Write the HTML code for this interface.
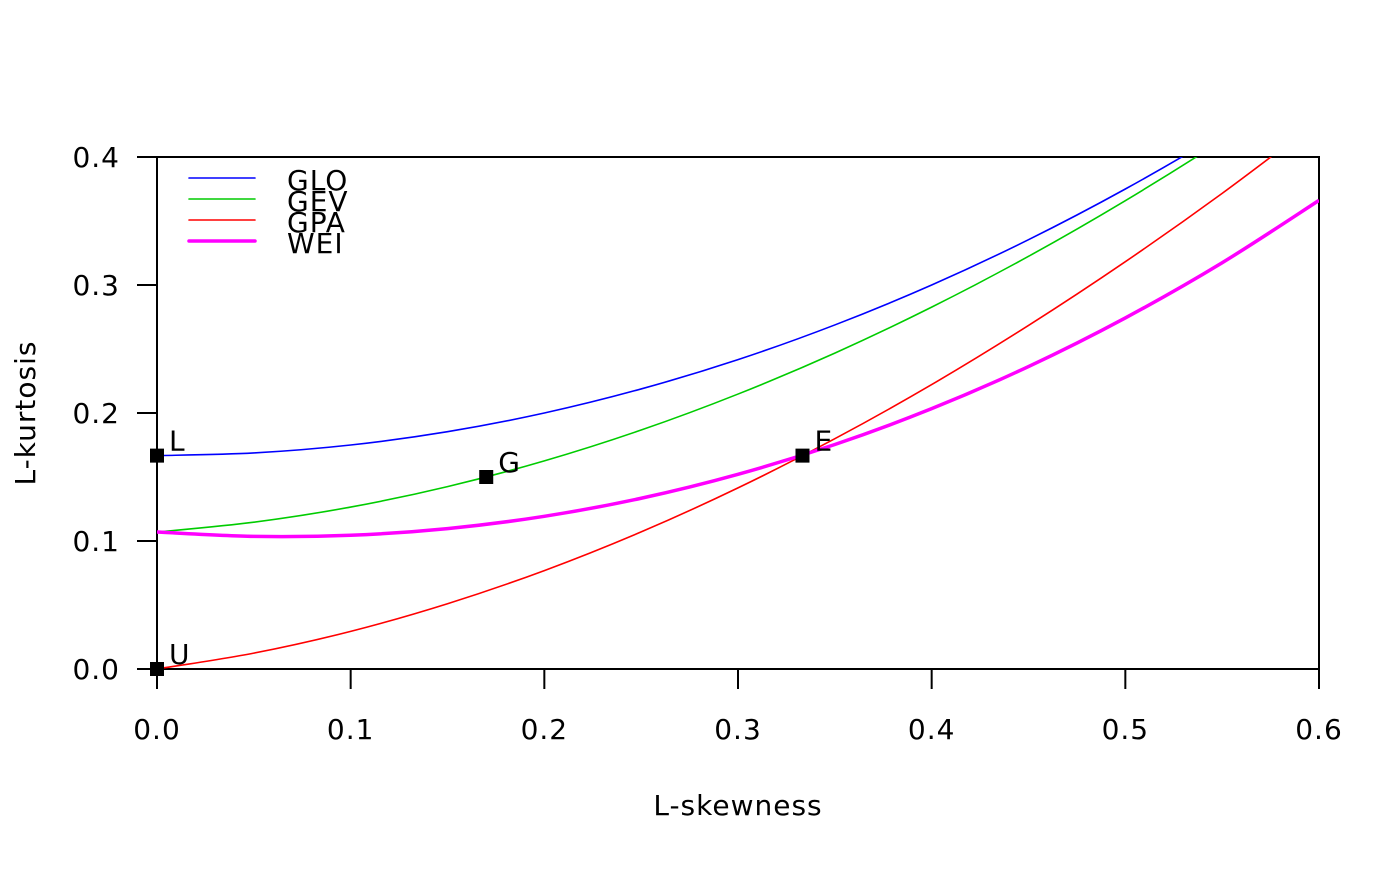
<!DOCTYPE html>
<html><head><meta charset="utf-8"><style>
html,body{margin:0;padding:0;background:#fff;}
svg text{font-family:"DejaVu Sans","Liberation Sans",sans-serif;letter-spacing:1px;}
</style></head><body>
<svg id="chart" width="1400" height="866" xmlns="http://www.w3.org/2000/svg">
<defs><clipPath id="clip"><rect x="157" y="157" width="1162" height="512"/></clipPath></defs>
<g id="axes"></g>
<g id="series" clip-path="url(#clip)"></g>
<g id="pts"></g>
<g id="legend"></g>
</svg>
<script>
const tGrid = [0,0.05,0.1,0.15,0.2,0.25,0.3,0.35,0.4,0.45,0.5,0.55,0.6];
const gloVals = [0.1667,0.1688,0.175,0.1854,0.2,0.2188,0.2417,0.2688,0.3,0.3354,0.375,0.4188,0.4667];
const gevVals = [0.1070,0.1147,0.1265,0.1425,0.1626,0.1867,0.2148,0.2468,0.2827,0.3224,0.3659,0.4130,0.4635];
const gpaVals = [0,0.0124,0.0294,0.0510,0.0769,0.1071,0.1415,0.1799,0.2222,0.2684,0.3182,0.3716,0.4286];
const weiVals = [0.1070,0.1036,0.1045,0.1097,0.1193,0.1334,0.1521,0.1754,0.2034,0.2363,0.2743,0.3174,0.3661];
const seriesNames = ["GLO","GEV","GPA","WEI"];
const pointNames = ["L","G","E","U"];
const pointX = [0,0.17,0.3333,0];
const pointY = [0.1667,0.15,0.1667,0];
const xTicks = [0,0.1,0.2,0.3,0.4,0.5,0.6];
const xTickLabels = ["0.0","0.1","0.2","0.3","0.4","0.5","0.6"];
const yTicks = [0,0.1,0.2,0.3,0.4];
const yTickLabels = ["0.0","0.1","0.2","0.3","0.4"];

const NS="http://www.w3.org/2000/svg";
const X0=157,X1=1319,Y0=669,Y1=157;
const FS=28;
const sx=v=>X0+(v-0)/(0.6-0)*(X1-X0);
const sy=v=>Y0-(v-0)/(0.4-0)*(Y0-Y1);
function mk(tag,attrs,parent,text){const e=document.createElementNS(NS,tag);for(const k in attrs)e.setAttribute(k,attrs[k]);if(text!==undefined)e.textContent=text;parent.appendChild(e);return e;}
const axes=document.getElementById('axes');
const box=mk('rect',{x:X0,y:Y1,width:X1-X0,height:Y0-Y1,fill:'none',stroke:'#000','stroke-width':2},axes);


xTicks.forEach((v,i)=>{
  const l=mk('line',{x1:sx(v),x2:sx(v),y1:Y0,y2:Y0+20,stroke:'#000','stroke-width':2},axes);
  
  
  const t=mk('text',{x:sx(v),y:739,'font-size':FS,'text-anchor':'middle'},axes,xTickLabels[i]);
  
  
});
yTicks.forEach((v,i)=>{
  const l=mk('line',{x1:X0-20,x2:X0,y1:sy(v),y2:sy(v),stroke:'#000','stroke-width':2},axes);
  
  
  const t=mk('text',{x:120,y:sy(v)+10,'font-size':FS,'text-anchor':'end'},axes,yTickLabels[i]);
  
  
});
const xt=mk('text',{x:738,y:815,'font-size':FS,'text-anchor':'middle'},axes,'L-skewness');


const yt=mk('text',{x:0,y:0,'font-size':FS,'text-anchor':'middle',transform:'translate(35,413) rotate(-90)'},axes,'L-kurtosis');



const colors=['#0000ff','#00cc00','#ff0000','#ff00ff'];
const widths=[1.6,1.6,1.6,3.5];
const allVals=[gloVals,gevVals,gpaVals,weiVals];
const sg=document.getElementById('series');
function smoothPath(xs,ys){
  const p=xs.map((x,i)=>[sx(x),sy(ys[i])]);
  let d='M'+p[0][0]+','+p[0][1];
  for(let i=0;i<p.length-1;i++){
    const a=p[Math.max(0,i-1)],b=p[i],c=p[i+1],e=p[Math.min(p.length-1,i+2)];
    const c1=[b[0]+(c[0]-a[0])/6,b[1]+(c[1]-a[1])/6],c2=[c[0]-(e[0]-b[0])/6,c[1]-(e[1]-b[1])/6];
    d+=' C'+c1+' '+c2+' '+c;
  }
  return d;
}
allVals.forEach((vals,i)=>{
  const p=mk('path',{d:smoothPath(tGrid,vals),fill:'none',stroke:colors[i],'stroke-width':widths[i]},sg);
  
  
});
const pg=document.getElementById('pts');
pointNames.forEach((n,i)=>{
  const r=mk('rect',{x:sx(pointX[i])-7,y:sy(pointY[i])-7,width:14,height:14,fill:'#000'},pg);
  
  
  const t=mk('text',{x:sx(pointX[i])+12,y:sy(pointY[i])-5,'font-size':FS},pg,n);
  
  
});
const lg=document.getElementById('legend');
seriesNames.forEach((n,i)=>{
  const y=178+i*21;
  const l=mk('line',{x1:189,x2:255,y1:y,y2:y,stroke:colors[i],'stroke-width':widths[i],'stroke-linecap':'round'},lg);
  
  
  const t=mk('text',{x:287,y:y+12,'font-size':FS},lg,n);
  
  
});
</script>
</body></html>
